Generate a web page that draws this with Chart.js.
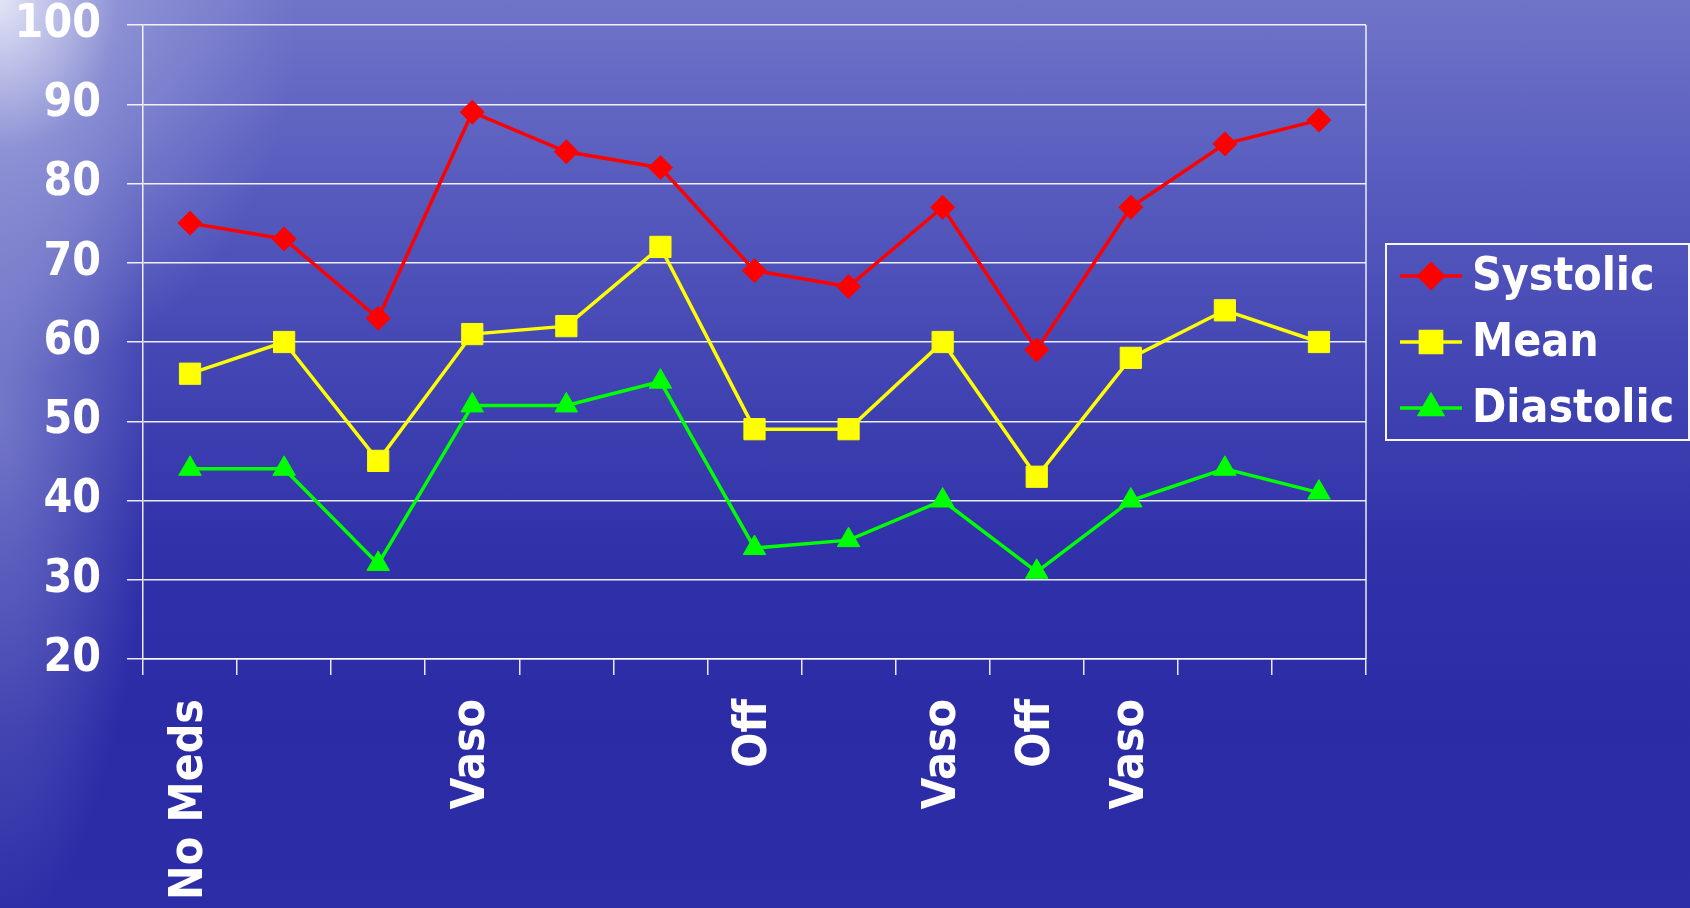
<!DOCTYPE html>
<html>
<head>
<meta charset="utf-8">
<title>Blood pressure</title>
<script src="https://cdn.jsdelivr.net/npm/chart.js@4/dist/chart.umd.min.js"></script>
<style>
  html, body { margin: 0; padding: 0; }
  body {
    width: 1690px; height: 908px; overflow: hidden;
    background:
      radial-gradient(ellipse 300px 380px at 0% 0%, rgba(232,234,248,0.95) 0%, rgba(170,174,225,0.5) 40%, rgba(120,125,205,0) 100%),
      radial-gradient(ellipse 150px 520px at 0% 45%, rgba(160,165,220,0.55) 0%, rgba(120,125,205,0) 100%),
      linear-gradient(to bottom, #7074c8 0%, #5a5ebf 18%, #4346b3 40%, #3132aa 60%, #2b2ba6 80%, #2d2da7 100%);
  }
  #wrap { position: absolute; left: 0; top: 0; width: 1690px; height: 908px; }
</style>
</head>
<body>
<div id="wrap"><canvas id="bp"></canvas></div>
<script>
// x labels (one per reading, most are blank)
const categories = ['No Meds', '', '', 'Vaso', '', '', 'Off', '', 'Vaso', 'Off', 'Vaso', '', ''];
const systolic  = [75, 73, 63, 89, 84, 82, 69, 67, 77, 59, 77, 85, 88];
const mean      = [56, 60, 45, 61, 62, 72, 49, 49, 60, 43, 58, 64, 60];
const diastolic = [44, 44, 32, 52, 52, 55, 34, 35, 40, 31, 40, 44, 41];
const yMin = 20, yMax = 100, yStep = 10;

const FONT = '"DejaVu Sans Condensed", "DejaVu Sans", sans-serif';
const WHITE = 'rgba(255,255,255,0.9)';

// right border of plot + boxed legend with line-and-marker samples
const framePlugin = {
  id: 'frame',
  afterDraw(chart) {
    const ctx = chart.ctx;
    const a = chart.chartArea;
    ctx.save();
    ctx.strokeStyle = WHITE;
    ctx.lineWidth = 1.5;
    ctx.beginPath();
    ctx.moveTo(a.right, a.top);
    ctx.lineTo(a.right, a.bottom);
    ctx.stroke();

    // legend
    const rowH = 66;
    const sets = chart.data.datasets;
    const boxL = a.right + 20;
    const boxR = chart.width - 1;
    const midY = (a.top + a.bottom) / 2;
    const boxT = midY - 98;
    const boxB = midY + 98;
    ctx.lineWidth = 2;
    ctx.strokeStyle = 'rgba(255,255,255,0.95)';
    ctx.strokeRect(boxL, boxT, boxR - boxL, boxB - boxT);

    ctx.font = 'bold 46px ' + FONT;
    ctx.textBaseline = 'middle';
    ctx.textAlign = 'left';
    sets.forEach((ds, i) => {
      const y = midY + (i - 1) * rowH;
      ctx.strokeStyle = ds.borderColor;
      ctx.lineWidth = 3.5;
      ctx.beginPath();
      ctx.moveTo(boxL + 14, y);
      ctx.lineTo(boxL + 76, y);
      ctx.stroke();
      ctx.fillStyle = ds.pointBackgroundColor;
      ctx.strokeStyle = ds.pointBorderColor;
      Chart.helpers.drawPoint(ctx, {
        pointStyle: ds.pointStyle, radius: ds.pointRadius, rotation: 0, borderWidth: 1
      }, boxL + 45, y);
      ctx.fillStyle = '#ffffff';
      ctx.fillText(ds.label, boxL + 86, y + 2);
    });
    ctx.restore();
  }
};

function series(label, data, color, style, r) {
  return {
    label: label,
    data: data,
    borderColor: color,
    backgroundColor: color,
    borderWidth: 3.5,
    pointStyle: style,
    pointRadius: r,
    pointHoverRadius: r,
    pointBackgroundColor: color,
    pointBorderColor: color,
    pointBorderWidth: 1,
    tension: 0,
    fill: false
  };
}

new Chart(document.getElementById('bp'), {
  type: 'line',
  data: {
    labels: categories,
    datasets: [
      series('Systolic', systolic, '#ff0000', 'rectRot', 12),
      series('Mean', mean, '#ffff00', 'rect', 15),
      series('Diastolic', diastolic, '#00ff00', 'triangle', 13)
    ]
  },
  options: {
    responsive: true,
    maintainAspectRatio: false,
    animation: false,
    layout: { padding: { top: 25, right: 324, left: 0, bottom: 0 } },
    plugins: {
      legend: { display: false },
      tooltip: { enabled: false }
    },
    scales: {
      x: {
        offset: true,
        grid: {
          offset: true,
          drawOnChartArea: false,
          drawTicks: true,
          tickLength: 16,
          color: WHITE,
          lineWidth: 1.5
        },
        border: { display: true, color: WHITE, width: 1.5 },
        ticks: {
          autoSkip: false,
          minRotation: 90,
          maxRotation: 90,
          padding: 24,
          color: '#ffffff',
          font: { family: FONT, size: 46, weight: 'bold', lineHeight: 1 }
        },
        afterFit(scale) {
          scale.height = 249;
          scale.paddingTop = 0;
          scale.paddingBottom = 0;
        }
      },
      y: {
        min: yMin,
        max: yMax,
        grid: {
          color: WHITE,
          lineWidth: 1.5,
          tickLength: 16
        },
        border: { display: true, color: WHITE, width: 1.5 },
        ticks: {
          stepSize: yStep,
          padding: 26,
          color: '#ffffff',
          font: { family: FONT, size: 46, weight: 'bold', lineHeight: 1 }
        },
        afterFit(scale) {
          scale.width = 143;
          scale.paddingTop = 0;
          scale.paddingBottom = 0;
        }
      }
    }
  },
  plugins: [framePlugin]
});
</script>
</body>
</html>
